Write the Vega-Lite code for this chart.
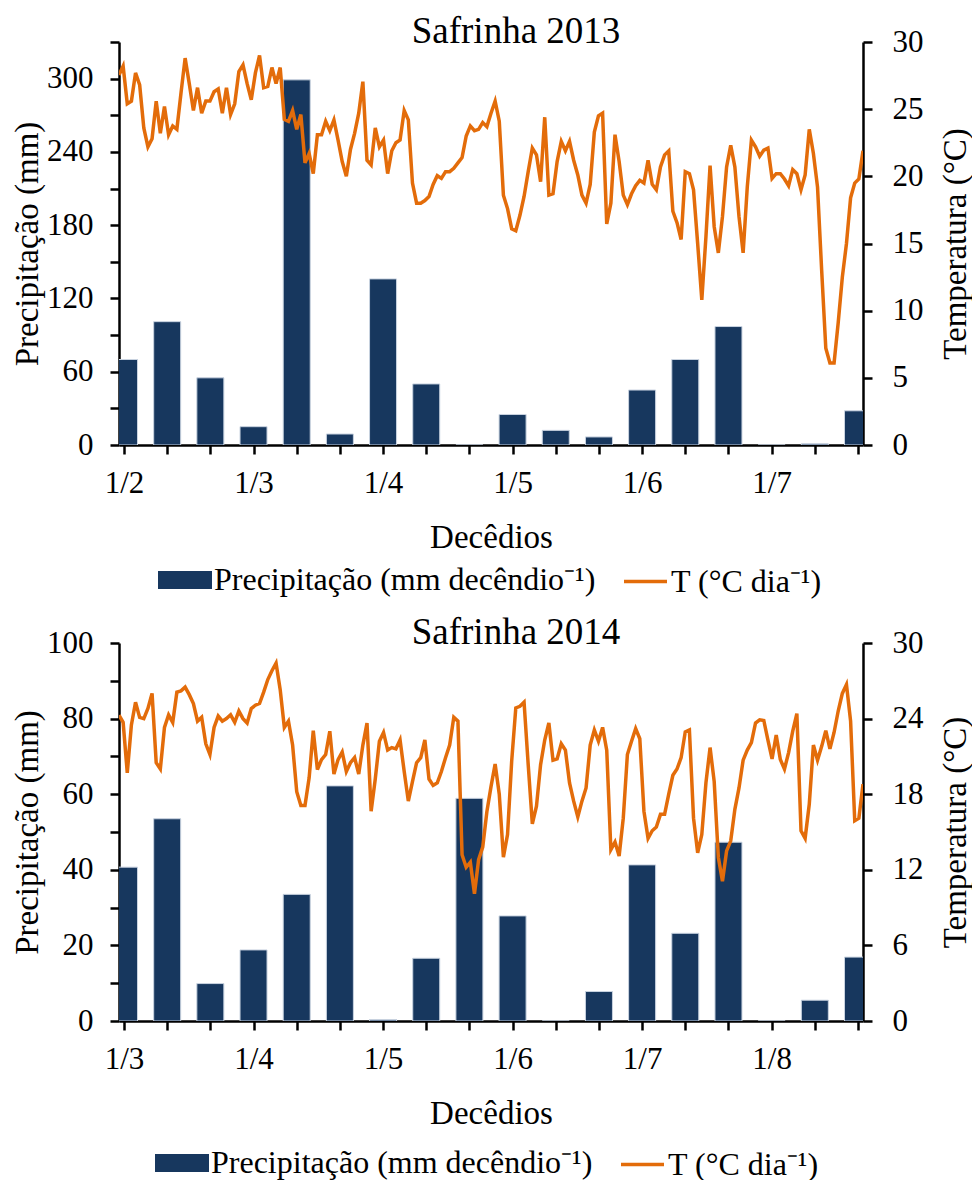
{
"$schema": "https://vega.github.io/schema/vega-lite/v6.json",
"background": "white",
"padding": {"left": 11, "top": 13, "right": 0, "bottom": 0},
"config": {
 "view": {"stroke": null},
 "font": "Liberation Serif",
 "concat": {"spacing": 16},
 "axis": {"domainColor": "black", "domainWidth": 2.5, "tickColor": "black", "tickWidth": 2.5, "tickSize": 9, "labelFont": "Liberation Serif", "labelFontSize": 31, "labelColor": "black", "titleFont": "Liberation Serif", "titleFontSize": 33, "titleFontWeight": "normal", "titleColor": "black", "grid": false, "labelFlush": false, "labelOverlap": false, "labelBound": false},
 "legend": {"labelFont": "Liberation Serif", "labelFontSize": 32, "labelColor": "black", "labelLimit": 0, "padding": 0, "labelOffset": 2, "title": null, "orient": "none", "direction": "horizontal"}
},
"datasets": {
 "p13": [{"dec":0,"prec":70},{"dec":1,"prec":101},{"dec":2,"prec":55},{"dec":3,"prec":15},{"dec":4,"prec":299},{"dec":5,"prec":9},{"dec":6,"prec":136},{"dec":7,"prec":50},{"dec":8,"prec":0},{"dec":9,"prec":25},{"dec":10,"prec":12},{"dec":11,"prec":6.6},{"dec":12,"prec":45},{"dec":13,"prec":70},{"dec":14,"prec":97},{"dec":15,"prec":0},{"dec":16,"prec":1},{"dec":17,"prec":28}],
 "p14": [{"dec":0,"prec":40.7},{"dec":1,"prec":53.5},{"dec":2,"prec":9.9},{"dec":3,"prec":18.8},{"dec":4,"prec":33.5},{"dec":5,"prec":62.2},{"dec":6,"prec":0.4},{"dec":7,"prec":16.6},{"dec":8,"prec":58.9},{"dec":9,"prec":27.8},{"dec":10,"prec":0},{"dec":11,"prec":7.8},{"dec":12,"prec":41.3},{"dec":13,"prec":23.2},{"dec":14,"prec":47.3},{"dec":15,"prec":0},{"dec":16,"prec":5.5},{"dec":17,"prec":16.9}],
 "t13": [{"dia":0,"temp":27.55},{"dia":1,"temp":28.2},{"dia":2,"temp":25.4},{"dia":3,"temp":25.6},{"dia":4,"temp":27.7},{"dia":5,"temp":26.8},{"dia":6,"temp":23.6},{"dia":7,"temp":22.2},{"dia":8,"temp":22.8},{"dia":9,"temp":25.6},{"dia":10,"temp":23.2},{"dia":11,"temp":25.2},{"dia":12,"temp":23.1},{"dia":13,"temp":23.75},{"dia":14,"temp":23.5},{"dia":15,"temp":26.2},{"dia":16,"temp":28.8},{"dia":17,"temp":26.9},{"dia":18,"temp":24.9},{"dia":19,"temp":26.6},{"dia":20,"temp":24.7},{"dia":21,"temp":25.6},{"dia":22,"temp":25.6},{"dia":23,"temp":26.3},{"dia":24,"temp":26.5},{"dia":25,"temp":24.7},{"dia":26,"temp":26.6},{"dia":27,"temp":24.6},{"dia":28,"temp":25.4},{"dia":29,"temp":27.8},{"dia":30,"temp":28.3},{"dia":31,"temp":26.9},{"dia":32,"temp":25.7},{"dia":33,"temp":27.7},{"dia":34,"temp":29.0},{"dia":35,"temp":26.6},{"dia":36,"temp":26.7},{"dia":37,"temp":28.1},{"dia":38,"temp":26.9},{"dia":39,"temp":28.1},{"dia":40,"temp":24.25},{"dia":41,"temp":24.1},{"dia":42,"temp":24.9},{"dia":43,"temp":23.5},{"dia":44,"temp":24.6},{"dia":45,"temp":21.0},{"dia":46,"temp":21.7},{"dia":47,"temp":20.2},{"dia":48,"temp":23.1},{"dia":49,"temp":23.1},{"dia":50,"temp":24.1},{"dia":51,"temp":23.4},{"dia":52,"temp":24.2},{"dia":53,"temp":22.7},{"dia":54,"temp":21.1},{"dia":55,"temp":20.0},{"dia":56,"temp":22.0},{"dia":57,"temp":23.2},{"dia":58,"temp":24.7},{"dia":59,"temp":27.05},{"dia":60,"temp":21.2},{"dia":61,"temp":20.85},{"dia":62,"temp":23.6},{"dia":63,"temp":22.2},{"dia":64,"temp":22.7},{"dia":65,"temp":20.2},{"dia":66,"temp":21.9},{"dia":67,"temp":22.5},{"dia":68,"temp":22.7},{"dia":69,"temp":24.9},{"dia":70,"temp":24.2},{"dia":71,"temp":19.5},{"dia":72,"temp":18.0},{"dia":73,"temp":18.0},{"dia":74,"temp":18.2},{"dia":75,"temp":18.5},{"dia":76,"temp":19.4},{"dia":77,"temp":20.05},{"dia":78,"temp":19.85},{"dia":79,"temp":20.35},{"dia":80,"temp":20.35},{"dia":81,"temp":20.6},{"dia":82,"temp":21.0},{"dia":83,"temp":21.4},{"dia":84,"temp":23.0},{"dia":85,"temp":23.75},{"dia":86,"temp":23.4},{"dia":87,"temp":23.5},{"dia":88,"temp":24.0},{"dia":89,"temp":23.7},{"dia":90,"temp":24.7},{"dia":91,"temp":25.6},{"dia":92,"temp":24.1},{"dia":93,"temp":18.6},{"dia":94,"temp":17.6},{"dia":95,"temp":16.1},{"dia":96,"temp":15.95},{"dia":97,"temp":17.1},{"dia":98,"temp":18.5},{"dia":99,"temp":20.35},{"dia":100,"temp":22.1},{"dia":101,"temp":21.6},{"dia":102,"temp":19.6},{"dia":103,"temp":24.4},{"dia":104,"temp":18.6},{"dia":105,"temp":18.7},{"dia":106,"temp":21.1},{"dia":107,"temp":22.6},{"dia":108,"temp":21.9},{"dia":109,"temp":22.6},{"dia":110,"temp":21.2},{"dia":111,"temp":20.1},{"dia":112,"temp":18.6},{"dia":113,"temp":18.0},{"dia":114,"temp":19.4},{"dia":115,"temp":23.3},{"dia":116,"temp":24.5},{"dia":117,"temp":24.7},{"dia":118,"temp":16.45},{"dia":119,"temp":18.0},{"dia":120,"temp":23.1},{"dia":121,"temp":21.1},{"dia":122,"temp":18.6},{"dia":123,"temp":17.9},{"dia":124,"temp":18.7},{"dia":125,"temp":19.3},{"dia":126,"temp":19.7},{"dia":127,"temp":19.5},{"dia":128,"temp":21.2},{"dia":129,"temp":19.4},{"dia":130,"temp":19.0},{"dia":131,"temp":20.7},{"dia":132,"temp":21.6},{"dia":133,"temp":21.9},{"dia":134,"temp":17.4},{"dia":135,"temp":16.55},{"dia":136,"temp":15.3},{"dia":137,"temp":20.35},{"dia":138,"temp":20.2},{"dia":139,"temp":19.0},{"dia":140,"temp":15.0},{"dia":141,"temp":10.8},{"dia":142,"temp":15.5},{"dia":143,"temp":20.8},{"dia":144,"temp":16.25},{"dia":145,"temp":14.3},{"dia":146,"temp":17.0},{"dia":147,"temp":20.7},{"dia":148,"temp":22.3},{"dia":149,"temp":20.7},{"dia":150,"temp":17.0},{"dia":151,"temp":14.3},{"dia":152,"temp":19.2},{"dia":153,"temp":22.7},{"dia":154,"temp":22.2},{"dia":155,"temp":21.5},{"dia":156,"temp":21.95},{"dia":157,"temp":22.1},{"dia":158,"temp":19.85},{"dia":159,"temp":20.2},{"dia":160,"temp":20.2},{"dia":161,"temp":19.8},{"dia":162,"temp":19.3},{"dia":163,"temp":20.5},{"dia":164,"temp":20.2},{"dia":165,"temp":19.0},{"dia":166,"temp":20.1},{"dia":167,"temp":23.5},{"dia":168,"temp":21.7},{"dia":169,"temp":19.2},{"dia":170,"temp":13.0},{"dia":171,"temp":7.2},{"dia":172,"temp":6.1},{"dia":173,"temp":6.1},{"dia":174,"temp":9.1},{"dia":175,"temp":12.5},{"dia":176,"temp":15.0},{"dia":177,"temp":18.4},{"dia":178,"temp":19.5},{"dia":179,"temp":19.8},{"dia":180,"temp":21.9}],
 "t14": [{"dia":0,"temp":24.27},{"dia":1,"temp":23.7},{"dia":2,"temp":19.7},{"dia":3,"temp":23.5},{"dia":4,"temp":25.3},{"dia":5,"temp":24.1},{"dia":6,"temp":24.0},{"dia":7,"temp":24.8},{"dia":8,"temp":26.0},{"dia":9,"temp":20.5},{"dia":10,"temp":20.0},{"dia":11,"temp":23.3},{"dia":12,"temp":24.3},{"dia":13,"temp":23.7},{"dia":14,"temp":26.1},{"dia":15,"temp":26.2},{"dia":16,"temp":26.5},{"dia":17,"temp":25.9},{"dia":18,"temp":25.2},{"dia":19,"temp":23.8},{"dia":20,"temp":24.1},{"dia":21,"temp":22.0},{"dia":22,"temp":21.15},{"dia":23,"temp":23.3},{"dia":24,"temp":24.2},{"dia":25,"temp":23.8},{"dia":26,"temp":24.0},{"dia":27,"temp":24.3},{"dia":28,"temp":23.7},{"dia":29,"temp":24.6},{"dia":30,"temp":24.0},{"dia":31,"temp":23.65},{"dia":32,"temp":24.8},{"dia":33,"temp":25.06},{"dia":34,"temp":25.2},{"dia":35,"temp":26.1},{"dia":36,"temp":27.1},{"dia":37,"temp":27.8},{"dia":38,"temp":28.4},{"dia":39,"temp":26.3},{"dia":40,"temp":23.3},{"dia":41,"temp":23.8},{"dia":42,"temp":21.9},{"dia":43,"temp":18.2},{"dia":44,"temp":17.1},{"dia":45,"temp":17.1},{"dia":46,"temp":19.3},{"dia":47,"temp":23.05},{"dia":48,"temp":19.96},{"dia":49,"temp":20.75},{"dia":50,"temp":21.15},{"dia":51,"temp":23.0},{"dia":52,"temp":19.6},{"dia":53,"temp":20.75},{"dia":54,"temp":21.35},{"dia":55,"temp":19.8},{"dia":56,"temp":20.5},{"dia":57,"temp":20.9},{"dia":58,"temp":19.6},{"dia":59,"temp":21.9},{"dia":60,"temp":23.65},{"dia":61,"temp":16.65},{"dia":62,"temp":19.2},{"dia":63,"temp":22.2},{"dia":64,"temp":22.9},{"dia":65,"temp":21.5},{"dia":66,"temp":21.7},{"dia":67,"temp":21.6},{"dia":68,"temp":22.3},{"dia":69,"temp":19.8},{"dia":70,"temp":17.45},{"dia":71,"temp":19.0},{"dia":72,"temp":20.5},{"dia":73,"temp":20.9},{"dia":74,"temp":22.3},{"dia":75,"temp":19.2},{"dia":76,"temp":18.7},{"dia":77,"temp":18.9},{"dia":78,"temp":19.8},{"dia":79,"temp":20.9},{"dia":80,"temp":21.9},{"dia":81,"temp":24.1},{"dia":82,"temp":23.8},{"dia":83,"temp":13.2},{"dia":84,"temp":12.2},{"dia":85,"temp":12.6},{"dia":86,"temp":10.1},{"dia":87,"temp":12.8},{"dia":88,"temp":13.8},{"dia":89,"temp":16.6},{"dia":90,"temp":18.6},{"dia":91,"temp":20.4},{"dia":92,"temp":18.0},{"dia":93,"temp":13.0},{"dia":94,"temp":14.8},{"dia":95,"temp":20.6},{"dia":96,"temp":24.85},{"dia":97,"temp":24.98},{"dia":98,"temp":25.3},{"dia":99,"temp":20.35},{"dia":100,"temp":15.65},{"dia":101,"temp":17.05},{"dia":102,"temp":20.35},{"dia":103,"temp":22.3},{"dia":104,"temp":23.65},{"dia":105,"temp":20.7},{"dia":106,"temp":20.8},{"dia":107,"temp":22.0},{"dia":108,"temp":21.5},{"dia":109,"temp":18.9},{"dia":110,"temp":17.45},{"dia":111,"temp":16.2},{"dia":112,"temp":17.45},{"dia":113,"temp":18.5},{"dia":114,"temp":21.9},{"dia":115,"temp":23.1},{"dia":116,"temp":22.2},{"dia":117,"temp":23.3},{"dia":118,"temp":21.5},{"dia":119,"temp":13.6},{"dia":120,"temp":14.2},{"dia":121,"temp":13.1},{"dia":122,"temp":16.1},{"dia":123,"temp":21.15},{"dia":124,"temp":22.2},{"dia":125,"temp":23.2},{"dia":126,"temp":22.4},{"dia":127,"temp":16.65},{"dia":128,"temp":14.5},{"dia":129,"temp":15.1},{"dia":130,"temp":15.4},{"dia":131,"temp":16.4},{"dia":132,"temp":16.4},{"dia":133,"temp":18.0},{"dia":134,"temp":19.5},{"dia":135,"temp":20.0},{"dia":136,"temp":20.9},{"dia":137,"temp":22.95},{"dia":138,"temp":23.1},{"dia":139,"temp":16.1},{"dia":140,"temp":13.35},{"dia":141,"temp":14.8},{"dia":142,"temp":18.9},{"dia":143,"temp":21.7},{"dia":144,"temp":19.0},{"dia":145,"temp":13.0},{"dia":146,"temp":11.1},{"dia":147,"temp":13.5},{"dia":148,"temp":14.3},{"dia":149,"temp":16.8},{"dia":150,"temp":18.5},{"dia":151,"temp":20.7},{"dia":152,"temp":21.5},{"dia":153,"temp":22.1},{"dia":154,"temp":23.65},{"dia":155,"temp":23.9},{"dia":156,"temp":23.85},{"dia":157,"temp":22.3},{"dia":158,"temp":20.8},{"dia":159,"temp":22.7},{"dia":160,"temp":20.75},{"dia":161,"temp":20.0},{"dia":162,"temp":21.3},{"dia":163,"temp":23.0},{"dia":164,"temp":24.4},{"dia":165,"temp":15.1},{"dia":166,"temp":14.5},{"dia":167,"temp":17.2},{"dia":168,"temp":21.9},{"dia":169,"temp":20.7},{"dia":170,"temp":21.8},{"dia":171,"temp":23.05},{"dia":172,"temp":21.6},{"dia":173,"temp":22.9},{"dia":174,"temp":24.6},{"dia":175,"temp":26.0},{"dia":176,"temp":26.7},{"dia":177,"temp":23.8},{"dia":178,"temp":15.9},{"dia":179,"temp":16.1},{"dia":180,"temp":18.8}]
},
"resolve": {"scale": {"x": "independent", "y": "independent", "fill": "independent", "stroke": "independent"}, "legend": {"fill": "independent", "stroke": "independent"}},
"vconcat": [
 {
  "width": 744, "height": 403,
  "title": {"text": "Safrinha 2013", "font": "Liberation Serif", "fontSize": 37, "fontWeight": "normal", "color": "black", "anchor": "middle", "dx": 25, "offset": -25},
  "resolve": {"scale": {"x": "independent", "y": "independent"}},
  "layer": [
   {
    "data": {"name": "p13"},
    "mark": {"type": "bar", "width": 27, "clip": true, "stroke": "#c9d3e0", "strokeWidth": 1},
    "encoding": {
     "x": {"field": "dec", "type": "quantitative", "scale": {"domain": [0, 17], "nice": false, "zero": false},
      "axis": {"title": "Decêdios", "values": [0,1,2,3,4,5,6,7,8,9,10,11,12,13,14,15,16,17], "labelExpr": "datum.value % 3 === 0 ? '1/' + (2 + datum.value / 3) : ''", "labelPadding": 14, "titlePadding": 23}},
     "y": {"field": "prec", "type": "quantitative", "scale": {"domain": [0, 330], "nice": false},
      "axis": {"title": "Precipitação (mm)", "values": [0,30,60,90,120,150,180,210,240,270,300,330], "labelExpr": "datum.value % 60 === 0 ? datum.label : ''", "labelPadding": 17, "titlePadding": 2}},
     "fill": {"datum": "Precipitação (mm decêndio⁻¹)", "type": "nominal",
      "scale": {"domain": ["Precipitação (mm decêndio⁻¹)"], "range": ["#17375E"]},
      "legend": {"legendX": 39, "legendY": 511, "symbolType": "M-1,-0.33H1V0.33H-1Z", "symbolSize": 2916, "symbolStrokeWidth": 0, "symbolOpacity": 1}}
    }
   },
   {
    "data": {"name": "t13"},
    "mark": {"type": "line", "strokeWidth": 3.5, "clip": true},
    "encoding": {
     "x": {"field": "dia", "type": "quantitative", "scale": {"domain": [0, 180], "nice": false, "zero": false}, "axis": null},
     "y": {"field": "temp", "type": "quantitative", "scale": {"domain": [0, 30], "nice": false},
      "axis": {"orient": "right", "title": "Temperatura (°C)", "titleAngle": 270, "titleBaseline": "top", "values": [0,5,10,15,20,25,30], "labelPadding": 20, "titlePadding": 16}},
     "stroke": {"datum": "T (°C dia⁻¹)", "type": "nominal",
      "scale": {"domain": ["T (°C dia⁻¹)"], "range": ["#E36C0A"]},
      "legend": {"legendX": 503, "legendY": 516, "symbolType": "M-1,0H1", "symbolSize": 1849, "symbolStrokeWidth": 3.5, "symbolOpacity": 1}}
    }
   }
  ]
 },
 {
  "width": 744, "height": 378,
  "title": {"text": "Safrinha 2014", "font": "Liberation Serif", "fontSize": 37, "fontWeight": "normal", "color": "black", "anchor": "middle", "dx": 25, "offset": -25},
  "resolve": {"scale": {"x": "independent", "y": "independent"}},
  "layer": [
   {
    "data": {"name": "p14"},
    "mark": {"type": "bar", "width": 27, "clip": true, "stroke": "#c9d3e0", "strokeWidth": 1},
    "encoding": {
     "x": {"field": "dec", "type": "quantitative", "scale": {"domain": [0, 17], "nice": false, "zero": false},
      "axis": {"title": "Decêdios", "values": [0,1,2,3,4,5,6,7,8,9,10,11,12,13,14,15,16,17], "labelExpr": "datum.value % 3 === 0 ? '1/' + (3 + datum.value / 3) : ''", "labelPadding": 14, "titlePadding": 23}},
     "y": {"field": "prec", "type": "quantitative", "scale": {"domain": [0, 100], "nice": false},
      "axis": {"title": "Precipitação (mm)", "values": [0,10,20,30,40,50,60,70,80,90,100], "labelExpr": "datum.value % 20 === 0 ? datum.label : ''", "labelPadding": 17, "titlePadding": 2}},
     "fill": {"datum": "Precipitação (mm decêndio⁻¹)", "type": "nominal",
      "scale": {"domain": ["Precipitação (mm decêndio⁻¹)"], "range": ["#17375E"]},
      "legend": {"legendX": 36, "legendY": 493, "symbolType": "M-1,-0.33H1V0.33H-1Z", "symbolSize": 2916, "symbolStrokeWidth": 0, "symbolOpacity": 1}}
    }
   },
   {
    "data": {"name": "t14"},
    "mark": {"type": "line", "strokeWidth": 3.5, "clip": true},
    "encoding": {
     "x": {"field": "dia", "type": "quantitative", "scale": {"domain": [0, 180], "nice": false, "zero": false}, "axis": null},
     "y": {"field": "temp", "type": "quantitative", "scale": {"domain": [0, 30], "nice": false},
      "axis": {"orient": "right", "title": "Temperatura (°C)", "titleAngle": 270, "titleBaseline": "top", "values": [0,6,12,18,24,30], "labelPadding": 20, "titlePadding": 16}},
     "stroke": {"datum": "T (°C dia⁻¹)", "type": "nominal",
      "scale": {"domain": ["T (°C dia⁻¹)"], "range": ["#E36C0A"]},
      "legend": {"legendX": 500, "legendY": 498, "symbolType": "M-1,0H1", "symbolSize": 1849, "symbolStrokeWidth": 3.5, "symbolOpacity": 1}}
    }
   }
  ]
 }
]
}
